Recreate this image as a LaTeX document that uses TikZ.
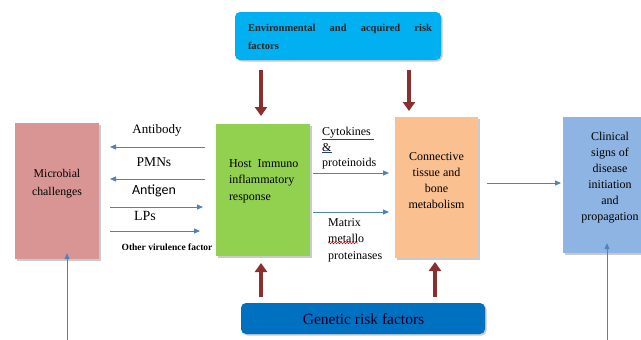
\documentclass[tikz,border=0pt]{standalone}
\usepackage{fontspec}
\setmainfont{Liberation Serif}
\newfontfamily\calib{Carlito}
\usetikzlibrary{shadows,arrows.meta,decorations.pathmorphing}
\definecolor{micro}{HTML}{D99594}
\definecolor{hostg}{HTML}{92D050}
\definecolor{conn}{HTML}{FAC090}
\definecolor{clin}{HTML}{8EB4E3}
\definecolor{envb}{HTML}{00B0F0}
\definecolor{genb}{HTML}{0070C0}
\definecolor{redarr}{HTML}{8B2E2E}
\definecolor{bluearr}{HTML}{4F81BD}
\definecolor{ulblue}{HTML}{1F3F8F}
\tikzset{
  box/.style={draw=none, inner sep=0pt, drop shadow={shadow xshift=1.5pt, shadow yshift=-1.5pt, opacity=0.35, fill=black!60}},
  rbox/.style={box, rounded corners=5pt},
  lbl/.style={inner sep=0pt, font=\fontsize{12}{16}\selectfont},
  barr/.style={draw=bluearr, line width=0.9pt, -{Triangle[length=6pt,width=5pt]}},
  rarr/.style={draw=redarr, line width=4pt, -{Triangle[length=9pt,width=12pt]}},
}
\begin{document}
\begin{tikzpicture}[x=1pt,y=-1pt]
\useasboundingbox (0,0) rectangle (641,340);
\clip (0,0) rectangle (641,340);

% boxes
\node[box, fill=micro, minimum width=84pt, minimum height=136pt] (mic) at (57,191) {};
\node[box, fill=hostg, minimum width=94pt, minimum height=132pt] (host) at (263,190) {};
\node[box, fill=conn, minimum width=83pt, minimum height=141pt] (conn) at (436.5,187.5) {};
\node[box, fill=clin, minimum width=94pt, minimum height=136pt] (clin) at (610,185) {};
\node[rbox, fill=envb, minimum width=206pt, minimum height=48pt] (env) at (338,36) {};
\node[rbox, fill=genb, minimum width=244pt, minimum height=31pt] (gen) at (363,318.5) {};

% box texts
\node[lbl, align=center, font=\fontsize{11.8}{18}\selectfont] (mict) at (57,184) {Microbial\\challenges};
\node[lbl, align=left, text width=72pt, font=\fontsize{12}{16.5}\selectfont] (hostt) at (265,181) {Host\hspace{6pt}Immuno\\inflammatory\\response};
\node[lbl, align=center, font=\fontsize{12}{16}\selectfont] (connt) at (436.5,181) {Connective\\tissue and\\bone\\metabolism};
\node[lbl, align=center, font=\fontsize{12}{16}\selectfont] (clint) at (610,178) {Clinical\\signs of\\disease\\initiation\\and\\propagation};
\node[lbl, align=left, text width=184pt, font=\bfseries\fontsize{10.5}{18}\selectfont, text=black!85] (envt) at (340,37)
  {Environmental\hfill and\hfill acquired\hfill risk\\factors};
\node[lbl, font=\fontsize{15.5}{18}\selectfont, text=black!85!blue] (gent) at (363.5,319) {Genetic risk factors};

% left labels and arrows
\coordinate (ab1) at (205,147); \coordinate (ab2) at (110,147);
\coordinate (pm1) at (205,179); \coordinate (pm2) at (110,179);
\coordinate (ag1) at (110,207); \coordinate (ag2) at (203,207);
\coordinate (lp1) at (110,231); \coordinate (lp2) at (200,231);
\draw[barr] (ab1) -- (ab2);
\draw[barr] (pm1) -- (pm2);
\draw[barr] (ag1) -- (ag2);
\draw[barr] (lp1) -- (lp2);
\node[lbl, font=\fontsize{13}{16}\selectfont] (antibody) at (157,130) {Antibody};
\node[lbl, font=\fontsize{13.5}{16}\selectfont] (pmns) at (154,162) {PMNs};
\node[lbl, font=\calib\fontsize{14}{16}\selectfont] (antigen) at (154,191) {Antigen};
\node[lbl, font=\fontsize{14}{16}\selectfont] (lps) at (145,216) {LPs};
\node[lbl, font=\bfseries\fontsize{9.5}{12}\selectfont] (other) at (167,247) {Other virulence factor};

% middle labels and arrows
\node[lbl, anchor=north west, align=left, font=\fontsize{12}{15.5}\selectfont] (cyto) at (322,127)
  {{\color{ulblue}\underline{\textcolor{black}{Cytokines\ }}}\\{\color{ulblue}\underline{\textcolor{black}{\&}}}\\proteinoids};
\node[lbl, anchor=north west, align=left, font=\fontsize{12}{16.5}\selectfont] (mmp) at (328,218)
  {Matrix\\metallo\\proteinases};
\draw[red!85!black, line width=0.5pt, decorate, decoration={snake, amplitude=0.8pt, segment length=3pt}]
  ([xshift=0pt, yshift=-25pt]mmp.north west) -- ([xshift=30pt, yshift=-25pt]mmp.north west);
\coordinate (cy1) at (313,173); \coordinate (cy2) at (389,173);
\coordinate (mm1) at (313,212); \coordinate (mm2) at (389,212);
\draw[barr] (cy1) -- (cy2);
\draw[barr] (mm1) -- (mm2);
\coordinate (oc1) at (487,183); \coordinate (oc2) at (561,183);
\draw[barr] (oc1) -- (oc2);

% red arrows
\draw[rarr] (env.south -| 261,0) ++(0,10) -- (261,116);
\draw[rarr] (env.south -| 409,0) ++(0,10) -- (409,111);
\draw[rarr] (gen.north -| 261,0) ++(0,-6) -- (261,263);
\draw[rarr] (gen.north -| 435,0) ++(0,-6) -- (435,262);

% bottom blue arrows
\coordinate (bl) at (67,342); \coordinate (br) at (607,342);
\draw[barr] (bl) -- ([yshift=6pt]mic.south -| bl);
\draw[barr] (br) -- ([yshift=10pt]clin.south -| br);
\end{tikzpicture}
\end{document}
